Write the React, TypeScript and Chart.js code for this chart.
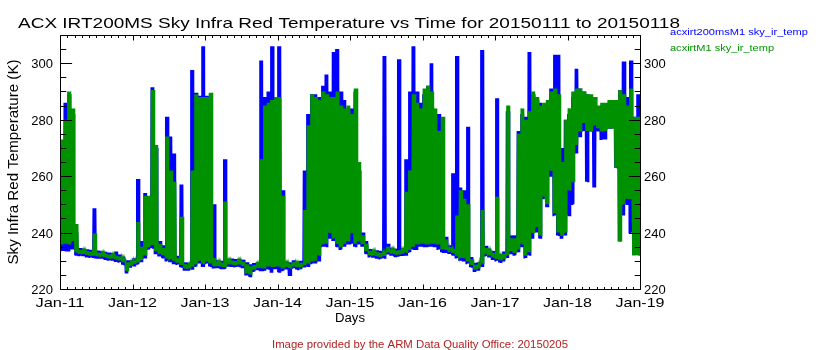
import React, { useEffect, useRef } from "react";
import { Chart, registerables } from "chart.js";

Chart.register(...registerables);

// ---- data ----
// Each bin spans 0.05 day starting at 2015-01-11 00:00; lo/hi = envelope of the trace within the bin.
const BIN_DAYS = 0.05;
const dayLabels = ["Jan-11", "Jan-12", "Jan-13", "Jan-14", "Jan-15", "Jan-16", "Jan-17", "Jan-18", "Jan-19"];
const yTickValues = [220, 240, 260, 280, 300];
const chartTitle = "ACX IRT200MS Sky Infra Red Temperature vs Time for 20150111 to 20150118";
const yTitle = "Sky Infra Red Temperature (K)";
const xTitle = "Days";
const footer = "Image provided by the ARM Data Quality Office: 20150205";
const blueName = "acxirt200msM1 sky_ir_temp";
const greenName = "acxirtM1 sky_ir_temp";

const greenLo = [
  236, 236, 236, 237, 233, 232.6, 232.4, 232.2, 232, 231.8,
  231.7, 231.5, 231.3, 231, 230.8, 230.6, 230.3, 229.5, 226.5, 228.3,
  229, 229.6, 230.3, 232, 235, 235.5, 233.5, 232.5, 232, 231,
  230.5, 230, 229.5, 228.5, 227.5, 227.3, 228, 229, 230, 229,
  230, 229, 228.3, 228.2, 228, 228, 228.7, 228.8, 228.6, 228.7,
  228.4, 225.6, 225.2, 227, 227.5, 227.5, 227.5, 228, 228, 228,
  228, 227.5, 227.8, 227.5, 228.2, 227.7, 228, 228.5, 229, 230,
  230, 232, 236, 236, 240, 238, 236, 235, 236, 237,
  240, 236, 237, 236, 233.5, 232.2, 231.9, 231.7, 231.5, 231.7,
  233.2, 232.6, 232.3, 232.4, 232.5, 233, 234, 235, 236, 236,
  236, 236, 236, 236, 236, 234, 234, 233.2, 232.8, 232,
  231, 231, 230, 228.5, 227, 227.3, 229, 232.5, 232, 231.3,
  230.8, 230.2, 230.8, 232, 233.5, 233, 234, 236, 232, 233,
  240, 242, 239, 253, 250, 262, 247, 240, 239, 240,
  255, 258, 271, 276, 279, 276, 276, 278, 277, 276,
  276, 277, 277, 263, 237, 250, 252, 252, 232, 232,
];
const greenHi = [
  273, 280, 290, 284, 243, 233.8, 233.6, 233.4, 233.2, 239.7,
  232.9, 232.7, 232.5, 232.2, 232, 231.8, 231.5, 230.8, 229.5, 229.5,
  230.2, 243.7, 235, 253, 253, 290.5, 271, 236, 234.5, 274,
  262, 258, 231, 245.6, 228.8, 228.6, 262, 289, 288, 288,
  288, 289.5, 231, 229.5, 229.3, 251, 230, 230.1, 229.9, 230,
  229.7, 228.8, 228, 228.5, 228.8, 266, 285, 286, 287, 288,
  288, 253, 229.1, 228.8, 229.5, 229, 229.3, 248, 278, 289,
  288, 287, 290, 289, 288, 288, 290, 285, 284, 285,
  282, 291, 265, 239, 236, 233.5, 233.2, 233, 232.8, 233,
  235, 233.9, 233.6, 233.7, 233.8, 254.5, 262, 289, 286, 284,
  291, 292, 290, 284, 276, 281, 237.5, 234.8, 234.2, 246,
  255, 252, 250, 230.5, 228.6, 228.8, 248, 234.5, 233.5, 232.8,
  252.7, 231.6, 232.5, 285, 238, 238, 275, 284, 280, 283,
  290, 288, 285, 286, 287, 290, 291, 289, 265, 280,
  284, 290, 291, 291, 290, 289, 289, 288, 285, 286,
  286, 287, 287, 287, 290.5, 289, 285, 291, 281, 281,
];
const blueLo = [
  233.5, 233.5, 233.5, 234, 232, 231.8, 231.6, 231.4, 231.2, 231,
  230.9, 230.7, 230.5, 230.2, 230, 229.8, 229.5, 228.6, 225.7, 227.5,
  228.2, 228.8, 229.5, 231, 234, 234.5, 232.5, 231.5, 231, 230,
  229.5, 229, 228.7, 227.7, 226.7, 226.5, 227, 228, 229, 228,
  229, 228, 227.5, 227.4, 227.2, 227.2, 227.9, 228, 227.8, 227.9,
  227.6, 224.8, 224.4, 226.2, 226.7, 226.5, 226.5, 227, 226, 227,
  226, 226.5, 226.9, 224.8, 227.4, 226.9, 227.2, 227.6, 228, 229,
  229, 230, 235, 235, 238, 237, 235, 234, 235, 236,
  236, 235, 236, 235, 232.5, 231.4, 231.1, 230.9, 230.7, 230.9,
  232.4, 231.8, 231.5, 231.6, 231.7, 232, 233, 234, 234, 235,
  235, 235, 235, 235, 234, 233, 233, 232.4, 232, 231,
  230, 230, 229, 227.7, 226.2, 226.5, 228, 231.7, 231.2, 230.5,
  230, 229.4, 230, 231, 232.5, 232, 233, 235, 231, 232,
  238, 240, 238, 252, 249, 260, 246, 239, 238, 239,
  246, 250, 268, 274, 276, 258, 276, 256, 276, 273,
  273, 277, 277, 263, 237, 246, 250, 240, 232, 233,
];
const blueHi = [
  250, 286, 289, 282, 240, 234.5, 234.3, 234.1, 233.9, 248.6,
  233.6, 233.4, 233.2, 232.9, 232.7, 233.3, 232.2, 231.5, 230.2, 230.2,
  230.9, 259, 237, 254, 248, 291.5, 270, 237, 235.5, 281,
  274, 268, 231.8, 257, 229.5, 229.3, 297.6, 289.5, 288.5, 306,
  288.5, 283, 250, 230.2, 230, 266, 230.7, 230.8, 230.6, 230.7,
  230.4, 229.5, 228.8, 229.2, 229.5, 301, 288, 290, 306, 288,
  306, 255, 229.8, 229.5, 230.2, 229.7, 230, 262, 282, 289,
  289, 288, 292, 296, 290, 304, 305, 290, 287, 284,
  284, 290, 262, 240, 237, 234.2, 233.9, 233.7, 233.5, 302.6,
  236, 234.6, 234.3, 301.4, 234.5, 266, 290, 306, 290, 286,
  289, 292, 300, 282, 282, 280, 238.5, 235.5, 261, 302.6,
  256, 255, 277.5, 231.3, 229.3, 229.5, 304.7, 235.3, 234.3, 233.5,
  287.6, 232.4, 233.3, 283, 239, 239, 276, 282, 281, 304,
  289, 287, 286, 284, 284, 291, 303, 303, 270, 280,
  282, 288, 298, 291, 290, 289, 287, 288, 283, 285,
  285, 286, 286, 286, 290.5, 300.6, 288, 301, 281, 289,
];

// Draw each bin's envelope as a tight back-and-forth trace between its low and high.
const SWINGS_PER_BIN = 4;
function trace(lo: number[], hi: number[], offset: number) {
  const pts: { x: number; y: number }[] = [];
  const step = BIN_DAYS / (2 * SWINGS_PER_BIN);
  for (let i = 0; i < lo.length; i++) {
    for (let k = 0; k < SWINGS_PER_BIN; k++) {
      const t = i * BIN_DAYS + offset + 2 * k * step;
      pts.push({ x: t, y: lo[i] });
      pts.push({ x: t + step, y: hi[i] });
    }
  }
  return pts;
}

const FONT = '"Liberation Sans", Arial, sans-serif';
const BLUE = "#0000ff";
const GREEN = "#009100";
const FOOT = "#b22222";

function fitText(
  ctx: CanvasRenderingContext2D,
  text: string,
  x: number,
  y: number,
  width: number,
  size: number,
  color: string,
  align: "left" | "center" | "right"
) {
  ctx.save();
  ctx.font = `${size}px ${FONT}`;
  ctx.fillStyle = color;
  ctx.textBaseline = "alphabetic";
  ctx.textAlign = "left";
  const w = ctx.measureText(text).width || 1;
  const s = width / w;
  const left = align === "left" ? x : align === "center" ? x - width / 2 : x - width;
  ctx.translate(left, y);
  ctx.scale(s, 1);
  ctx.fillText(text, 0, 0);
  ctx.restore();
}

const idlFrame = {
  id: "idlFrame",
  afterDraw(chart: any) {
    const ctx: CanvasRenderingContext2D = chart.ctx;
    const { left, right, top, bottom } = chart.chartArea;
    const xs = chart.scales.x;
    const ys = chart.scales.y;
    ctx.save();
    ctx.strokeStyle = "#000";
    ctx.lineWidth = 1;
    ctx.beginPath();
    ctx.rect(left + 0.5, top + 0.5, right - left, bottom - top);
    ctx.stroke();

    // x ticks (every 0.1 day, major each day), inward on bottom and top
    ctx.beginPath();
    for (let k = 0; k <= 80; k++) {
      const px = Math.round(xs.getPixelForValue(k / 10)) + 0.5;
      const len = k % 10 === 0 ? 5 : 2.5;
      ctx.moveTo(px, bottom + 0.5);
      ctx.lineTo(px, bottom + 0.5 - len);
      ctx.moveTo(px, top + 0.5);
      ctx.lineTo(px, top + 0.5 + len);
    }
    // y ticks every 5, major every 20
    for (let v = 220; v <= 310; v += 5) {
      const py = Math.round(ys.getPixelForValue(v)) + 0.5;
      const len = v % 20 === 0 ? 11.6 : 5.8;
      ctx.moveTo(left + 0.5, py);
      ctx.lineTo(left + 0.5 + len, py);
      ctx.moveTo(right + 0.5, py);
      ctx.lineTo(right + 0.5 - len, py);
    }
    ctx.stroke();
    ctx.restore();

    // tick labels
    yTickValues.forEach((v) => {
      const py = ys.getPixelForValue(v);
      fitText(ctx, String(v), left - 7, py + 5, 21.7, 13, "#000", "right");
      fitText(ctx, String(v), right + 4, py + 5, 21.7, 13, "#000", "left");
    });
    dayLabels.forEach((lab, i) => {
      const px = xs.getPixelForValue(i);
      fitText(ctx, lab, px, 307, 49, 13, "#000", "center");
    });

    // titles
    fitText(ctx, chartTitle, 18, 28, 662, 14.5, "#000", "left");
    fitText(ctx, xTitle, (left + right) / 2, 322, 30, 13, "#000", "center");
    ctx.save();
    ctx.translate(18, (top + bottom) / 2);
    ctx.rotate(-Math.PI / 2);
    fitText(ctx, yTitle, 0, 0, 205, 14, "#000", "center");
    ctx.restore();

    // legend
    fitText(ctx, blueName, 670, 35, 138, 9.5, BLUE, "left");
    fitText(ctx, greenName, 670, 51, 104, 9.5, GREEN, "left");

    // footer
    fitText(ctx, footer, 272, 347.5, 296, 10, FOOT, "left");
  },
};

export default function App() {
  const ref = useRef<HTMLCanvasElement | null>(null);
  useEffect(() => {
    if (!ref.current) return;
    const chart = new Chart(ref.current, {
      type: "line",
      data: {
        datasets: [
          {
            label: greenName,
            data: trace(greenLo, greenHi, 0.003),
            borderColor: GREEN,
            backgroundColor: GREEN,
            borderWidth: 1.2,
            pointRadius: 0,
            tension: 0,
            fill: false,
            order: 0,
          },
          {
            label: blueName,
            data: trace(blueLo, blueHi, 0),
            borderColor: BLUE,
            backgroundColor: BLUE,
            borderWidth: 1.2,
            pointRadius: 0,
            tension: 0,
            fill: false,
            order: 1,
          },
        ],
      },
      options: {
        animation: false,
        responsive: false,
        devicePixelRatio: 1,
        layout: { padding: { left: 60, right: 200, top: 35, bottom: 61 } },
        scales: {
          x: { type: "linear", min: 0, max: 8, display: false },
          y: { type: "linear", min: 220, max: 310, display: false },
        },
        plugins: {
          legend: { display: false },
          title: { display: false },
          tooltip: { enabled: false },
        },
      },
      plugins: [idlFrame],
    });
    return () => chart.destroy();
  }, []);
  return (
    <div style={{ position: "absolute", left: 0, top: 0, width: 840, height: 350, background: "#fff" }}>
      <canvas ref={ref} width={840} height={350} style={{ position: "absolute", left: 0, top: 0 }} />
    </div>
  );
}
